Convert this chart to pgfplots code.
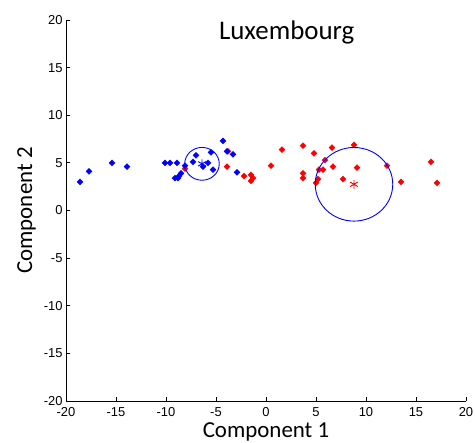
\documentclass[border=0pt]{standalone}
\usepackage{fontspec}
\setmainfont{Carlito}
\newfontfamily\arialfont{Liberation Sans}
\usepackage{pgfplots}
\pgfplotsset{compat=1.18}

\definecolor{mblue}{RGB}{0,0,255}
\definecolor{mred}{RGB}{255,0,0}

\pgfplotsset{
  member/.style={only marks, mark=square*, mark size=2.1bp,
    mark options={rotate=45}},
}

\begin{document}
\begin{tikzpicture}
\begin{axis}[
  width=400bp, height=381bp, scale only axis,
  xmin=-20, xmax=20, ymin=-20, ymax=20,
  axis lines=left, axis line style={-, line width=0.8bp},
  xtick={-20,-15,...,20}, ytick={-20,-15,...,20},
  tick align=inside, major tick length=4bp,
  tick style={line width=0.8bp, black},
  /pgf/number format/assume math mode=true,
  ticklabel style={font=\arialfont\fontsize{13}{15}\selectfont},
  xticklabel style={yshift=-3bp},
  xlabel={Component 1}, ylabel={Component 2},
  xlabel style={font=\fontsize{23}{26}\selectfont, at={(rel axis cs:0.5,0)}, anchor=base, yshift=-36bp},
  ylabel style={font=\fontsize{23}{26}\selectfont, at={(rel axis cs:0,0.5)}, anchor=north, inner sep=0pt, rotate=0, yshift=49bp},
  clip=false,
]
% cluster 2 members
\addplot[member, color=mred] coordinates {
  (0.5,4.7) (1.6,6.4) (3.7,6.8) (4.8,6.0) (6.6,6.6) (8.8,6.9)
  (3.7,3.9) (3.7,3.4) (5.9,5.3) (5.3,4.3) (5.7,4.3) (6.7,4.6)
  (9.1,4.5) (7.7,3.3) (5.2,3.3) (5.0,2.9) (12.1,4.7) (13.5,3.0)
  (16.5,5.1) (17.1,2.9) (-8.1,4.4) (-3.8,6.2) (-3.9,4.6) (-2.2,3.6)
  (-1.5,3.75) (-1.3,3.4) (-1.5,3.1)
};
% cluster 1 members
\addplot[member, color=mblue] coordinates {
  (-18.6,3.0) (-17.7,4.1) (-15.4,5.0) (-13.9,4.6) (-10.1,5.0) (-9.6,5.0)
  (-8.9,5.0) (-8.1,4.7) (-8.5,3.9) (-8.7,3.6) (-9.1,3.4) (-8.8,3.4)
  (-7.0,5.8) (-7.3,5.1) (-6.3,4.6) (-5.8,5.0) (-5.5,6.1) (-5.3,4.3)
  (-4.3,7.3) (-3.9,6.2) (-3.3,5.9) (-2.9,4.0)
};
% cluster spread circles
\addplot[only marks, mark=o, mark size=16.4bp, color=mblue,
  mark options={xscale=1.053, line width=0.9bp}] coordinates {(-6.4,4.9)};
\addplot[only marks, mark=o, mark size=36.8bp, color=mblue,
  mark options={xscale=1.053, line width=0.9bp}] coordinates {(8.8,2.75)};
% cluster centres
\addplot[only marks, mark=asterisk, mark size=4.5bp, color=mblue,
  mark options={line width=0.9bp}] coordinates {(-6.4,4.9)};
\addplot[only marks, mark=asterisk, mark size=4.5bp, color=mred,
  mark options={line width=0.9bp}] coordinates {(8.8,2.75)};
\node[anchor=base, font=\fontsize{27}{30}\selectfont] at (axis cs:2.07,17.97) {Luxembourg};
\coordinate (SW) at (rel axis cs:0,0);
\coordinate (NE) at (rel axis cs:1,1);
\end{axis}
\pgfresetboundingbox
\path (SW) ++(-66bp,-42bp) rectangle ([shift={(9bp,20bp)}]NE);
\end{tikzpicture}
\end{document}
